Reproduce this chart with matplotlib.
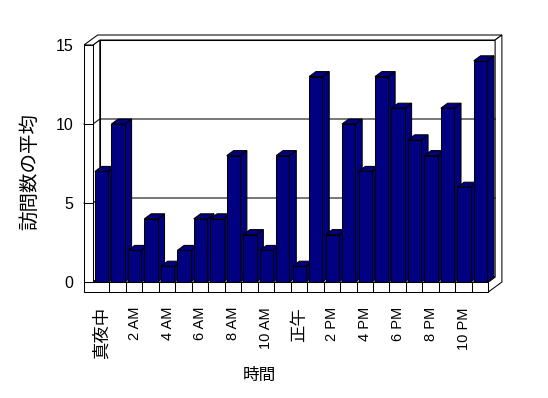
import matplotlib
matplotlib.use("Agg")
import matplotlib.pyplot as plt
from matplotlib.patches import Polygon, Rectangle

plt.rcParams['font.family'] = ['Liberation Sans', 'Noto Sans CJK JP']

# ---- data ----
hours = list(range(24))
visits = [7, 10, 2, 4, 1, 2, 4, 4, 8, 3, 2, 8, 1, 13, 3, 10, 7, 13, 11, 9, 8, 11, 6, 14]
tick_hours = [0, 2, 4, 6, 8, 10, 12, 14, 16, 18, 20, 22]
tick_labels = ['真夜中', '2 AM', '4 AM', '6 AM', '8 AM', '10 AM', '正午',
               '2 PM', '4 PM', '6 PM', '8 PM', '10 PM']
y_ticks = [0, 5, 10, 15]
y_label = '訪問数の平均'
x_label = '時間'

W, H = 548, 398
fig = plt.figure(figsize=(W / 100, H / 100), dpi=100)
fig.patch.set_facecolor('white')

x_left, x_right = 93, 488.3
y_bot, y_top = 282, 45
ax = fig.add_axes([x_left / W, 1 - y_bot / H, (x_right - x_left) / W, (y_bot - y_top) / H])
ax.set_xlim(0, 24)
ax.set_ylim(0, 15)
ax.set_facecolor('none')
for s in ax.spines.values():
    s.set_visible(False)

ux = (x_right - x_left) / 24.0   # px per category
uy = (y_bot - y_top) / 15.0      # px per value unit
dx = 6.8 / ux                    # depth offset (x)
dy = 5.0 / uy                    # depth offset (y)
wall_t = 9.0 / ux                # left wall thickness
floor_t = 10.0 / uy              # floor thickness
ymax = 15
n = len(hours)

lw = 0.75
ec = 'black'

def poly(pts, z, fc='white'):
    p = Polygon(pts, closed=True, facecolor=fc, edgecolor=ec, linewidth=lw,
                zorder=z, clip_on=False, joinstyle='miter')
    ax.add_patch(p)

# back plane
poly([(dx, dy), (n + dx, dy), (n + dx, ymax + dy), (dx, ymax + dy)], 1)
# left wall inner face
poly([(0, 0), (dx, dy), (dx, ymax + dy), (0, ymax)], 1)
# top of L-shaped wall
poly([(-wall_t, ymax), (0, ymax), (dx, ymax + dy), (n + dx, ymax + dy),
      (n + 2 * dx, ymax + 2 * dy), (-wall_t + 2 * dx, ymax + 2 * dy)], 1)
# right face (back wall + floor)
poly([(n, -floor_t), (n + 2 * dx, -floor_t + 2 * dy), (n + 2 * dx, ymax + 2 * dy),
      (n + dx, ymax + dy), (n + dx, dy), (n, 0)], 1)
# floor top
poly([(0, 0), (n, 0), (n + dx, dy), (dx, dy)], 1.5)

# gridlines
for v in y_ticks[1:-1]:
    ax.plot([-wall_t, 0, dx, n + dx], [v, v, v + dy, v + dy], color=ec,
            linewidth=lw, zorder=2, clip_on=False, solid_joinstyle='miter')

# bars
bw = 0.81
off = 0.12
for i, v in zip(hours, visits):
    z = 3 + i * 0.01
    x0 = i + off
    x1 = x0 + bw
    ax.add_patch(Rectangle((x0, 0), bw, v, facecolor='#000080', edgecolor=ec,
                           linewidth=lw, zorder=z + 0.005, clip_on=False))
    poly([(x1, 0), (x1 + dx, dy), (x1 + dx, v + dy), (x1, v)], z, fc='#000080')
    poly([(x0, v), (x1, v), (x1 + dx, v + dy), (x0 + dx, v + dy)], z, fc='#000080')

# floor front face and left wall front face
poly([(-wall_t, -floor_t), (n, -floor_t), (n, 0), (-wall_t, 0)], 5)
poly([(-wall_t, 0), (0, 0), (0, ymax), (-wall_t, ymax)], 5)
for k in range(1, n):
    ax.plot([k, k], [0, -floor_t], color=ec, linewidth=lw, zorder=5.1, clip_on=False)
for v in y_ticks[1:-1]:
    ax.plot([-wall_t, 0], [v, v], color=ec, linewidth=lw, zorder=5.1, clip_on=False)

# ticks
ax.set_yticks(y_ticks)
ax.set_yticklabels([str(t) for t in y_ticks], fontsize=11.5)
ax.tick_params(axis='y', length=0, pad=14)
ax.set_xticks([h + off + bw / 2 for h in tick_hours])
ax.set_xticklabels(tick_labels, rotation=90, fontsize=10.5)
ax.tick_params(axis='x', length=0, pad=18)
for lbl in ax.get_xticklabels():
    if any(ord(c) > 0x2E80 for c in lbl.get_text()):
        lbl.set_fontsize(12.5)

fig.text(30 / W, 1 - 172 / H, y_label, rotation=90, ha='center', va='center',
         fontsize=14)
fig.text(259 / W, 1 - 375.5 / H, x_label, ha='center', va='center', fontsize=12)

fig.savefig('out.png', dpi=100, facecolor='white')
